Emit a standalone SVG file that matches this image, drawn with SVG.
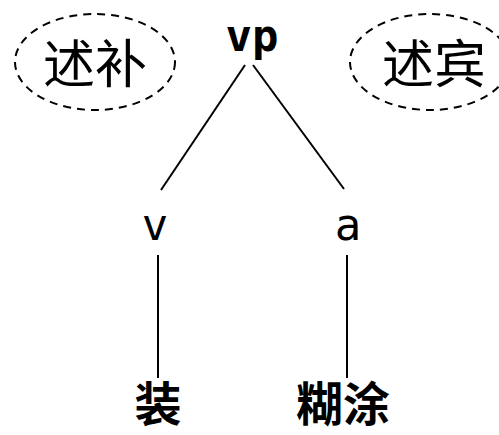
<svg xmlns="http://www.w3.org/2000/svg" width="499" height="435" viewBox="0 0 499 435">
<style>
.bg{fill:#fff}
.ell{fill:none;stroke:#000;stroke-width:2;stroke-dasharray:8,6}
.cj{font-family:"Noto Sans CJK SC",sans-serif;font-size:52px;fill:#000;text-anchor:middle}
.lat{font-family:"DejaVu Sans Mono","Liberation Mono",monospace;fill:#000;text-anchor:middle}
.word{font-family:"Noto Sans CJK SC",sans-serif;font-size:47px;font-weight:bold;fill:#000;text-anchor:middle}
.edge{stroke:#000;stroke-width:2;fill:none}
</style>
<rect class="bg" width="499" height="435"/>
<g id="label-shubu">
<ellipse class="ell" cx="95" cy="62" rx="80" ry="48"/>
<text class="cj" x="95" y="83">述补</text>
</g>
<g id="label-shubin">
<ellipse class="ell" cx="430" cy="62" rx="80" ry="48"/>
<text class="cj" x="434" y="83">述宾</text>
</g>
<g id="node-vp">
<text class="lat" x="252" y="51" font-size="44" font-weight="bold">vp</text>
</g>
<g id="node-v">
<text class="lat" x="155" y="240" font-size="44">v</text>
</g>
<g id="node-a">
<text class="lat" x="348" y="240" font-size="44">a</text>
</g>
<g id="node-zhuang">
<text class="word" x="158" y="421">装</text>
</g>
<g id="node-hutu">
<text class="word" x="343" y="421">糊涂</text>
</g>
<g id="connectors">
<line class="edge" x1="245" y1="65" x2="161" y2="190"/>
<line class="edge" x1="253" y1="65" x2="344" y2="189"/>
<line class="edge" x1="158" y1="255" x2="158" y2="378"/>
<line class="edge" x1="347" y1="255" x2="347" y2="378"/>
</g>
</svg>
